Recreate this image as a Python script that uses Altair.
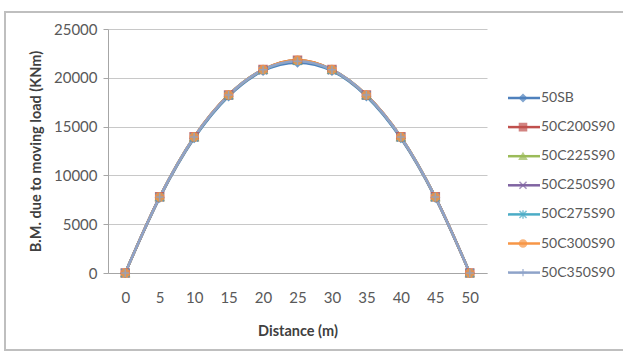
import altair as alt
import pandas as pd

distance = [0, 5, 10, 15, 20, 25, 30, 35, 40, 45, 50]
series_names = ["50SB", "50C200S90", "50C225S90", "50C250S90", "50C275S90", "50C300S90", "50C350S90"]
series_colors = ["#4F81BD", "#C0504D", "#9BBB59", "#8064A2", "#4BACC6", "#F79646", "#8EA3C9"]
bm_50SB      = [0, 7700, 13800, 18100, 20700, 21550, 20700, 18100, 13800, 7700, 0]
bm_50C200S90 = [0, 7800, 13950, 18250, 20850, 21800, 20850, 18250, 13950, 7800, 0]
bm_50C225S90 = [0, 7790, 13930, 18230, 20830, 21780, 20830, 18230, 13930, 7790, 0]
bm_50C250S90 = [0, 7770, 13900, 18200, 20800, 21750, 20800, 18200, 13900, 7770, 0]
bm_50C275S90 = [0, 7760, 13880, 18180, 20780, 21720, 20780, 18180, 13880, 7760, 0]
bm_50C300S90 = [0, 7790, 13940, 18240, 20840, 21790, 20840, 18240, 13940, 7790, 0]
bm_50C350S90 = [0, 7790, 13930, 18230, 20830, 21700, 20830, 18230, 13930, 7790, 0]
y_ticks = [0, 5000, 10000, 15000, 20000, 25000]

all_values = [bm_50SB, bm_50C200S90, bm_50C225S90, bm_50C250S90, bm_50C275S90, bm_50C300S90, bm_50C350S90]

# Excel 2007 marker shapes
diamond = "diamond"
square = "square"
triangle = "triangle-up"
xmark = "M-1,-1L1,1M-1,1L1,-1"
star = "M-1,-1L1,1M-1,1L1,-1M0,-1.2L0,1.2"
circle = "circle"
plus = "M-1,0L1,0M0,-1L0,1"
series_shapes = [diamond, square, triangle, xmark, star, circle, plus]

rows = []
for name, vals in zip(series_names, all_values):
    for d, v in zip(distance, vals):
        rows.append({"series": name, "distance": d, "bm": v, "order": series_names.index(name)})
df = pd.DataFrame(rows)

FONT = "Lato"
W, H = 379, 244
PAD_L, PAD_T = 108, 29

color_scale = alt.Scale(domain=series_names, range=series_colors)
shape_scale = alt.Scale(domain=series_names, range=series_shapes)

x_axis = alt.Axis(values=distance, title="Distance (m)", grid=False, ticks=False,
                  labelOverlap=False, labelFlush=False, labelBound=False,
                  labelPadding=17, titlePadding=19, domainColor="#A6A6A6")
y_axis = alt.Axis(values=y_ticks, format="d", title="B.M. due to moving load (KNm)",
                  tickSize=5, labelPadding=6, titlePadding=10, labelOverlap=False,
                  domainColor="#A6A6A6", tickColor="#A6A6A6", gridColor="#C8C8C8")
x_scale = alt.Scale(domain=[-2.5, 52.5], nice=False, zero=False)
y_scale = alt.Scale(domain=[0, 25000], nice=False)

lines = alt.Chart(df).mark_line(interpolate="cardinal", strokeWidth=2.5).encode(
    x=alt.X("distance:Q", scale=x_scale, axis=x_axis),
    y=alt.Y("bm:Q", scale=y_scale, axis=y_axis),
    color=alt.Color("series:N", scale=color_scale, legend=None),
    detail="series:N",
)

points = alt.Chart(df).mark_point(filled=True, size=64, opacity=0.8, strokeWidth=1.5).encode(
    x=alt.X("distance:Q", scale=x_scale, axis=x_axis),
    y=alt.Y("bm:Q", scale=y_scale, axis=y_axis),
    fill=alt.Fill("series:N", scale=color_scale, legend=None),
    stroke=alt.Stroke("series:N", scale=color_scale, legend=None),
    shape=alt.Shape("series:N", scale=shape_scale, legend=None),
    order=alt.Order("order:Q"),
)

data_layer = alt.layer(lines, points)

# manual legend (Excel-style: line segment with marker)
leg = pd.DataFrame({
    "series": series_names,
    "lx0": [400] * 7, "lx1": [432] * 7, "mx": [415] * 7, "tx": [433] * 7,
    "ly": [69 + 29.1 * i for i in range(7)],
})
leg_lines = alt.Chart(leg).mark_rule(strokeWidth=2.5).encode(
    x=alt.X("lx0:Q", scale=None, axis=None), x2="lx1:Q",
    y=alt.Y("ly:Q", scale=None, axis=None),
    color=alt.Color("series:N", scale=color_scale, legend=None),
)
leg_pts = alt.Chart(leg).mark_point(filled=True, size=50, strokeWidth=1.5).encode(
    x=alt.X("mx:Q", scale=None, axis=None),
    y=alt.Y("ly:Q", scale=None, axis=None),
    fill=alt.Fill("series:N", scale=color_scale, legend=None),
    stroke=alt.Stroke("series:N", scale=color_scale, legend=None),
    shape=alt.Shape("series:N", scale=shape_scale, legend=None),
)
leg_text = alt.Chart(leg).mark_text(align="left", baseline="middle", font=FONT, fontSize=14,
                                    color="#595959").encode(
    x=alt.X("tx:Q", scale=None, axis=None),
    y=alt.Y("ly:Q", scale=None, axis=None),
    text="series:N",
)

border = alt.Chart(pd.DataFrame({"a": [0]})).mark_rect(
    fill=None, stroke="#BFBFBF", strokeWidth=2
).encode(
    x=alt.value(5 - PAD_L), x2=alt.value(640 - PAD_L),
    y=alt.value(12 - PAD_T), y2=alt.value(350 - PAD_T),
)

chart = alt.layer(
    border, data_layer, leg_lines, leg_pts, leg_text
).resolve_scale(
    x="independent", y="independent"
).properties(
    width=W, height=H,
    autosize=alt.AutoSizeParams(type="none"),
    padding={"left": PAD_L, "top": PAD_T, "right": 623 - PAD_L - W, "bottom": 356 - PAD_T - H},
    background="white",
).configure_view(
    stroke=None
).configure_axis(
    labelFont=FONT, labelFontSize=15, labelColor="#595959",
    titleFont=FONT, titleFontSize=14.5, titleFontWeight="bold", titleColor="#404040",
).configure_axisX(
    labelOverlap=False
)

chart.save("out.html", embed_options={"renderer": "svg", "actions": False})
